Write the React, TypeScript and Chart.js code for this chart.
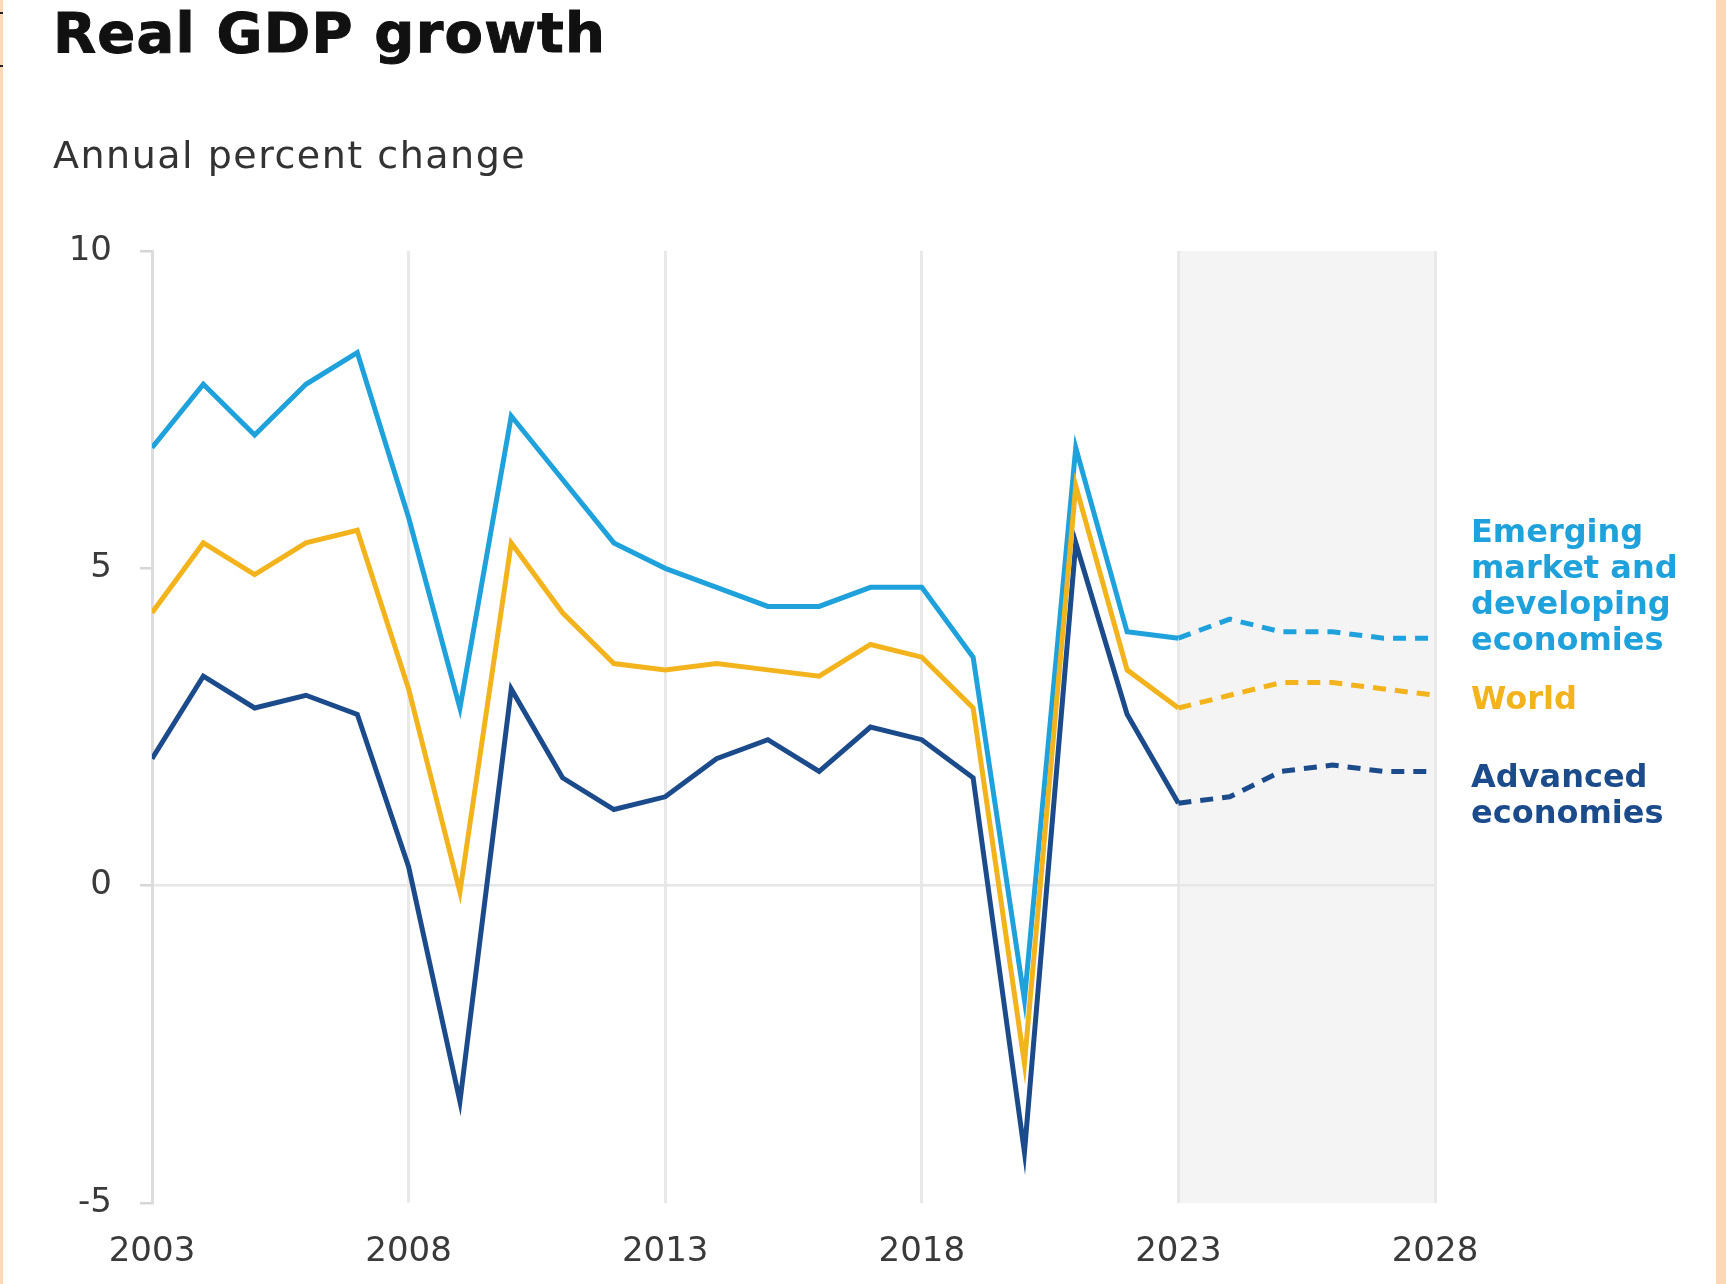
import React, { useEffect, useRef } from "react";
import { Chart, registerables } from "chart.js";

Chart.register(...registerables);

const years = [
  2003, 2004, 2005, 2006, 2007, 2008, 2009, 2010, 2011, 2012, 2013, 2014, 2015,
  2016, 2017, 2018, 2019, 2020, 2021, 2022, 2023, 2024, 2025, 2026, 2027, 2028,
];
const emerging = [
  6.9, 7.9, 7.1, 7.9, 8.4, 5.8, 2.8, 7.4, 6.4, 5.4, 5.0, 4.7, 4.4, 4.4, 4.7, 4.7,
  3.6, -1.8, 6.9, 4.0, 3.9, 4.2, 4.0, 4.0, 3.9, 3.9,
];
const world = [
  4.3, 5.4, 4.9, 5.4, 5.6, 3.1, -0.1, 5.4, 4.3, 3.5, 3.4, 3.5, 3.4, 3.3, 3.8, 3.6,
  2.8, -2.8, 6.3, 3.4, 2.8, 3.0, 3.2, 3.2, 3.1, 3.0,
];
const advanced = [
  2.0, 3.3, 2.8, 3.0, 2.7, 0.3, -3.4, 3.1, 1.7, 1.2, 1.4, 2.0, 2.3, 1.8, 2.5, 2.3,
  1.7, -4.2, 5.4, 2.7, 1.3, 1.4, 1.8, 1.9, 1.8, 1.8,
];
const projectionStart = 2023;
const projectionEnd = 2028;
const emergingLabel = ["Emerging", "market and", "developing", "economies"];
const worldLabel = ["World"];
const advancedLabel = ["Advanced", "economies"];

const C_EM = "#1fa2db";
const C_WO = "#f2b31c";
const C_AD = "#1c4b8b";

const W = 1726;
const H = 1284;

export default function App() {
  const ref = useRef<HTMLCanvasElement | null>(null);

  useEffect(() => {
    const canvas = ref.current;
    if (!canvas) return;

    const toPts = (arr: number[]) => arr.map((v, i) => ({ x: years[i], y: v }));
    const dash = (ctx: any) =>
      ctx.p0.parsed.x >= projectionStart ? [13, 9] : undefined;

    const shade = {
      id: "shade",
      beforeDraw(chart: any) {
        const { ctx, chartArea, scales } = chart;
        const x0 = scales.x.getPixelForValue(projectionStart);
        const x1 = scales.x.getPixelForValue(projectionEnd);
        ctx.save();
        ctx.fillStyle = "#f4f4f4";
        ctx.fillRect(x0, chartArea.top, x1 - x0, chartArea.bottom - chartArea.top);
        ctx.restore();
      },
    };

    const labels = {
      id: "endLabels",
      afterDatasetsDraw(chart: any) {
        const { ctx, chartArea, scales } = chart;
        const x = chartArea.right + 36;
        const lh = 36;
        ctx.save();
        ctx.font = "bold 32px 'DejaVu Sans'";
        ctx.textBaseline = "middle";
        ctx.textAlign = "left";
        const last = years.length - 1;
        ctx.fillStyle = C_EM;
        const yEm = scales.y.getPixelForValue(emerging[last]) + 4;
        emergingLabel.forEach((t, i) => {
          ctx.fillText(t, x, yEm - (emergingLabel.length - 1 - i) * lh);
        });
        ctx.fillStyle = C_WO;
        const yWo = scales.y.getPixelForValue(world[last]) + 5;
        worldLabel.forEach((t, i) => ctx.fillText(t, x, yWo + i * lh));
        ctx.fillStyle = C_AD;
        const yAd = scales.y.getPixelForValue(advanced[last]) + 7;
        advancedLabel.forEach((t, i) => ctx.fillText(t, x, yAd + i * lh));
        ctx.restore();
      },
    };

    const chart = new Chart(canvas, {
      type: "line",
      data: {
        datasets: [
          {
            label: "World",
            data: toPts(world),
            borderColor: C_WO,
            borderWidth: 5,
            pointRadius: 0,
            tension: 0,
            segment: { borderDash: dash },
            order: 1,
          },
          {
            label: "Emerging market and developing economies",
            data: toPts(emerging),
            borderColor: C_EM,
            borderWidth: 5,
            pointRadius: 0,
            tension: 0,
            segment: { borderDash: dash },
            order: 2,
          },
          {
            label: "Advanced economies",
            data: toPts(advanced),
            borderColor: C_AD,
            borderWidth: 5,
            pointRadius: 0,
            tension: 0,
            segment: { borderDash: dash },
            order: 3,
          },
        ],
      },
      options: {
        responsive: false,
        animation: false,
        layout: { padding: { top: 251, right: 291, bottom: 0, left: 0 } },
        plugins: {
          legend: { display: false },
          tooltip: { enabled: false },
          title: { display: false },
        },
        scales: {
          x: {
            type: "linear",
            min: 2003,
            max: 2028,
            afterFit: (s: any) => {
              s.height = 81;
            },
            ticks: {
              stepSize: 5,
              padding: 29,
              color: "#3a3a3a",
              font: { family: "'DejaVu Sans'", size: 34 },
              callback: (v: any) => String(v),
              maxRotation: 0,
              autoSkip: false,
            },
            grid: {
              color: "#e9e9e9",
              lineWidth: 3,
              drawTicks: false,
            },
            border: { display: false },
          },
          y: {
            min: -5,
            max: 10,
            afterFit: (s: any) => {
              s.width = 152;
            },
            ticks: {
              stepSize: 5,
              padding: 28,
              color: "#3a3a3a",
              font: { family: "'DejaVu Sans'", size: 34 },
            },
            grid: {
              color: (c: any) =>
                c.tick && c.tick.value === 0 ? "#e6e6e6" : "rgba(0,0,0,0)",
              lineWidth: 2.5,
              drawTicks: true,
              tickLength: 12,
              tickColor: "#d6d6d6",
            },
            border: { display: true, color: "#dcdcdc", width: 3 },
          },
        },
      },
      plugins: [shade, labels],
    });

    return () => chart.destroy();
  }, []);

  return (
    <div
      style={{
        position: "fixed",
        left: 0,
        top: 0,
        width: W,
        height: H,
        background: "#ffffff",
        overflow: "hidden",
      }}
    >
      <canvas
        ref={ref}
        width={W}
        height={H}
        style={{ position: "absolute", left: 0, top: 0, width: W, height: H }}
      />
      <div
        style={{
          position: "absolute",
          left: 53,
          top: 5,
          fontFamily: "'DejaVu Sans', sans-serif",
          fontWeight: "bold",
          fontSize: 56,
          lineHeight: "56px",
          letterSpacing: "1.2px",
          color: "#111111",
          WebkitTextStroke: "1px #111111",
          whiteSpace: "nowrap",
        }}
      >
        Real GDP growth
      </div>
      <div
        style={{
          position: "absolute",
          left: 53,
          top: 136,
          fontFamily: "'DejaVu Sans', sans-serif",
          fontSize: 38,
          lineHeight: "38px",
          letterSpacing: "1.5px",
          color: "#333333",
          whiteSpace: "nowrap",
        }}
      >
        Annual percent change
      </div>
      <div style={{ position: "absolute", left: 0, top: 0, width: 3, height: H, background: "#fdd8b5" }} />
      <div style={{ position: "absolute", right: 0, top: 0, width: 10, height: H, background: "#fdd8b5" }} />
      <div style={{ position: "absolute", left: 0, top: 12, width: 3, height: 2, background: "#222" }} />
      <div style={{ position: "absolute", left: 0, top: 65, width: 3, height: 2, background: "#222" }} />
    </div>
  );
}
